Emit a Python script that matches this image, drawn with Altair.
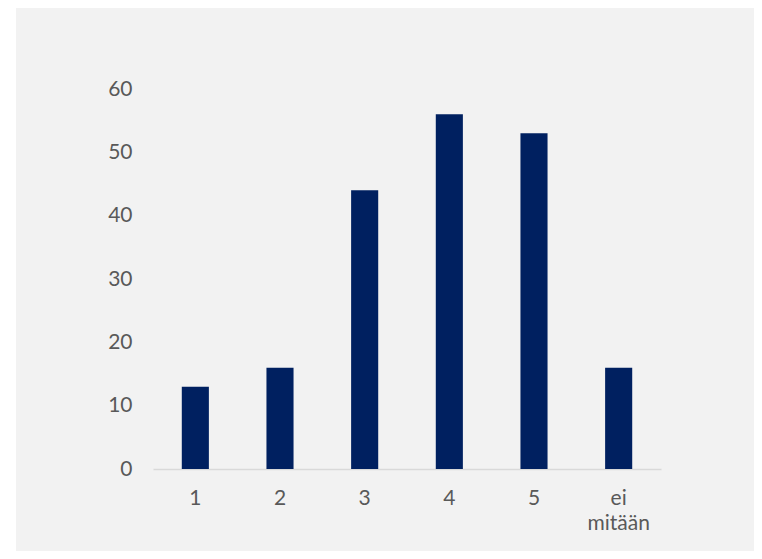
import altair as alt
import pandas as pd

categories = ["1", "2", "3", "4", "5", "ei mitään"]
values = [13, 16, 44, 56, 53, 16]
y_ticks = [0, 10, 20, 30, 40, 50, 60]

df = pd.DataFrame({"cat": categories, "val": values})

W, H = 508, 380
PL, PT, PR, PB = 145, 81, 93, 82

bars = alt.Chart(df).mark_bar(color="#002060").encode(
    x=alt.X("cat:N", sort=categories,
            scale=alt.Scale(paddingInner=0.68, paddingOuter=0.34),
            axis=alt.Axis(title=None, labelAngle=0, ticks=False,
                          domainColor="#d9d9d9", domainWidth=1.3,
                          labelColor="#595959", labelFont="Lato",
                          labelFontSize=21, labelPadding=18,
                          labelLineHeight=25,
                          labelExpr="datum.label == 'ei mitään' ? ['ei', 'mitään'] : datum.label")),
    y=alt.Y("val:Q", scale=alt.Scale(domain=[0, 60], nice=False),
            axis=alt.Axis(title=None, values=y_ticks, domain=False, ticks=False,
                          grid=False, labelColor="#595959", labelFont="Lato",
                          labelFontSize=21, labelPadding=21)),
)

strip = alt.Chart(df).mark_rect(color="white").encode(
    x=alt.value(-PL), x2=alt.value(-PL + 8),
    y=alt.value(-PT), y2=alt.value(H + PB),
)

chart = alt.layer(strip, bars).properties(
    width=W, height=H,
    background="#f2f2f2",
    padding={"left": PL, "top": PT, "right": PR, "bottom": PB},
    autosize=alt.AutoSizeParams(type="none"),
).configure_view(stroke=None)

chart.save("out.html", embed_options={"renderer": "svg", "actions": False})
